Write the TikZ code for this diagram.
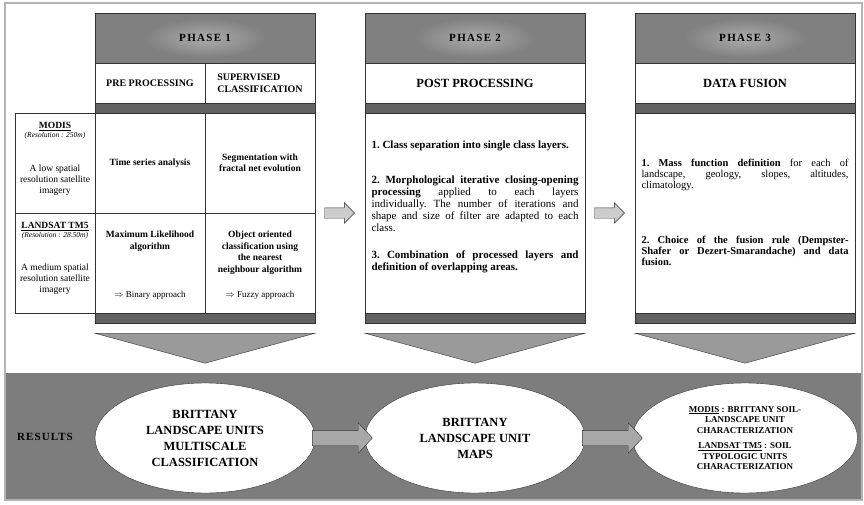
\documentclass[tikz,border=0pt]{standalone}
\usepackage{fontspec}
\setmainfont{Liberation Serif}
\usetikzlibrary{positioning,shapes.geometric,shapes.arrows,calc}
\definecolor{hdrgray}{HTML}{808080}
\definecolor{glowgray}{HTML}{ADADAD}
\definecolor{bandgray}{HTML}{626262}
\definecolor{resgray}{HTML}{7D7D7D}
\definecolor{chevgray}{HTML}{9A9A9A}
\definecolor{linegray}{HTML}{333333}
\definecolor{framegray}{HTML}{B4B4B4}
\definecolor{arrgray}{HTML}{A8A8A8}
\definecolor{lightarr}{HTML}{CDCDCD}

\begin{document}
\begin{tikzpicture}[x=1pt,y=-1pt,
  font=\fontsize{9.5}{11.5}\selectfont,
  hdr/.style={rectangle,draw=linegray,fill=hdrgray,minimum width=220pt,minimum height=50pt,inner sep=0pt},
  glowtxt/.style={shading=radial,inner color=glowgray,outer color=hdrgray,inner xsep=35pt,inner ysep=16pt,
                  font=\fontsize{11}{13}\selectfont\bfseries\addfontfeature{LetterSpace=12}},
  sub/.style={rectangle,draw=linegray,fill=white,minimum height=40pt,inner sep=2pt,align=center,
              font=\fontsize{10}{11.5}\selectfont\bfseries},
  bandbox/.style={rectangle,draw=linegray,fill=bandgray,minimum width=220pt,minimum height=10pt,inner sep=0pt},
  cell/.style={rectangle,draw=linegray,fill=white,minimum width=110pt,minimum height=100pt,inner sep=2pt,
               align=center,font=\fontsize{9.5}{11.5}\selectfont\bfseries},
  lcell/.style={rectangle,draw=linegray,fill=white,minimum width=80pt,minimum height=100pt,inner sep=0pt},
  body/.style={rectangle,draw=linegray,fill=white,minimum width=220pt,minimum height=200pt,inner sep=0pt},
  ctxt/.style={inner sep=0pt,align=center,font=\fontsize{9.5}{11.5}\selectfont\bfseries},
  apptxt/.style={inner sep=0pt,font=\fontsize{9}{11}\selectfont},
  ltxt/.style={inner sep=0pt,align=center,font=\fontsize{9.5}{11}\selectfont},
  para/.style={inner sep=0pt,text width=207pt,align=justify,font=\fontsize{11}{12}\selectfont\frenchspacing},
  para3/.style={para,font=\fontsize{10.5}{11}\selectfont\frenchspacing},
  parr/.style={single arrow,draw=linegray,fill=lightarr,minimum height=30pt,inner xsep=0pt,inner ysep=5pt,
               single arrow head extend=5pt,single arrow tip angle=90},
  barr/.style={single arrow,draw=linegray,fill=arrgray,minimum height=60pt,inner xsep=0pt,inner ysep=7.5pt,
               single arrow head extend=7.5pt,single arrow tip angle=94},
  chev/.style={draw=linegray,fill=chevgray},
  ell/.style={ellipse,draw=linegray,fill=white,minimum width=220pt,minimum height=110pt,inner sep=0pt,
              align=center,font=\fontsize{12.5}{16}\selectfont\bfseries}
]
\useasboundingbox (0,0) rectangle (864,505);
\fill[resgray] (5,373) rectangle (862,500);
\draw[framegray,line width=1.2pt] (5,3) rectangle (862,500);

% phase 1
\node[hdr] (ph1) at (205,38) {};
\node[glowtxt] (ph1t) at (ph1) {PHASE 1};
\node[sub,minimum width=110pt] (pre) at (150,83) {PRE PROCESSING};
\node[sub,minimum width=110pt,align=left] (sup) at (260,83) {SUPERVISED\\CLASSIFICATION};
\node[bandbox] (bt1) at (205,108) {};
\node[cell] (tsa) at (150,163) {Time series analysis};
\node[cell] (seg) at (260,163) {Segmentation with\\fractal net evolution};
\node[cell] (mle) at (150,263) {};
\node[cell] (ooc) at (260,263) {};
\node[ctxt,below=18pt of mle.north] (mlet) {Maximum Likelihood\\algorithm};
\node[ctxt,below=18pt of ooc.north] (ooct) {Object oriented\\classification using\\the nearest\\neighbour algorithm};
\node[apptxt,above=14pt of mle.south] (bin) {$\Rightarrow$ Binary approach};
\node[apptxt,above=14pt of ooc.south] (fuz) {$\Rightarrow$ Fuzzy approach};
\node[bandbox] (bb1) at (205,318) {};

% sensors
\node[lcell] (modis) at (55,163) {};
\node[ltxt,below=9pt of modis.north] (modist) {\textbf{\underline{MODIS}}\\[-2pt]{\fontsize{7.5}{9}\selectfont\itshape (Resolution : 250m)}};
\node[ltxt,below=52pt of modis.north] (modisd) {A low spatial\\resolution satellite\\imagery};
\node[lcell] (tm5) at (55,263) {};
\node[ltxt,below=9pt of tm5.north] (tm5t) {\textbf{\underline{LANDSAT TM5}}\\[-2pt]{\fontsize{7.5}{9}\selectfont\itshape (Resolution : 28.50m)}};
\node[ltxt,below=51pt of tm5.north] (tm5d) {A medium spatial\\resolution satellite\\imagery};

% phase 2
\node[hdr] (ph2) at (475,38) {};
\node[glowtxt] (ph2t) at (ph2) {PHASE 2};
\node[sub,minimum width=220pt,font=\fontsize{12.5}{14}\selectfont\bfseries] (post) at (475,83) {POST PROCESSING};
\node[bandbox] (bt2) at (475,108) {};
\node[body] (p2body) at (475,213) {};
\node[bandbox] (bb2) at (475,318) {};
\node[para,below=28pt of p2body.north] (s21) {\textbf{1. Class separation into single class layers.}};
\node[para,below=63pt of p2body.north] (s22) {\textbf{2. Morphological iterative closing-opening\linebreak processing} applied to each layers\linebreak individually. The number of iterations and\linebreak shape and size of filter are adapted to each\linebreak class.};
\node[para,below=138pt of p2body.north] (s23) {\textbf{3. Combination of processed layers and\linebreak definition of overlapping areas.}};

% phase 3
\node[hdr] (ph3) at (745,38) {};
\node[glowtxt] (ph3t) at (ph3) {PHASE 3};
\node[sub,minimum width=220pt,font=\fontsize{12.5}{14}\selectfont\bfseries] (fus) at (745,83) {DATA FUSION};
\node[bandbox] (bt3) at (745,108) {};
\node[body] (p3body) at (745,213) {};
\node[bandbox] (bb3) at (745,318) {};
\node[para3,below=46pt of p3body.north] (s31) {\textbf{1. Mass function definition} for each of\linebreak landscape, geology, slopes, altitudes,\linebreak climatology.};
\node[para3,below=123pt of p3body.north] (s32) {\textbf{2. Choice of the fusion rule (Dempster-\linebreak Shafer or Dezert-Smarandache) and data\linebreak fusion.}};

\node[parr,left=10pt of p2body] (a12) {};
\node[parr,left=10pt of p3body] (a23) {};

\foreach \b in {bb1,bb2,bb3}
  \draw[chev] ([yshift=-10pt]\b.south west) -- ([yshift=-10pt]\b.south east) -- ([yshift=-40pt]\b.south) -- cycle;

% results
\node[font=\fontsize{11}{13}\selectfont\bfseries\addfontfeature{LetterSpace=10}] (res) at (45,437) {RESULTS};
\node[ell] (e1) at (205,438) {BRITTANY\\LANDSCAPE UNITS\\MULTISCALE\\CLASSIFICATION};
\node[ell] (e2) at (475,438) {BRITTANY\\LANDSCAPE UNIT\\MAPS};
\node[ell,minimum width=225pt,font=\fontsize{9}{10.5}\selectfont\bfseries] (e3) at (745,438)
  {\underline{MODIS} : BRITTANY SOIL-\\LANDSCAPE UNIT\\CHARACTERIZATION\\[5pt]\underline{LANDSAT TM5} : SOIL\\TYPOLOGIC UNITS\\CHARACTERIZATION};
\node[barr,right=-3pt of e1] (a1) {};
\node[barr,right=-3pt of e2] (a2) {};
\end{tikzpicture}
\end{document}
